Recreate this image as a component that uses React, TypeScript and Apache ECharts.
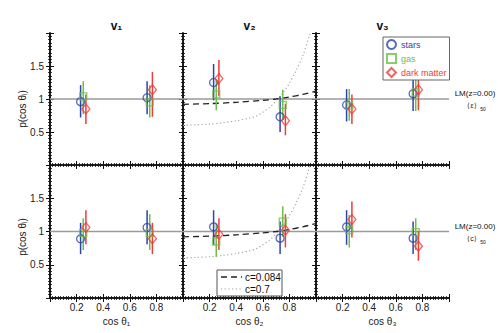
import { useEffect, useRef } from 'react';
import * as echarts from 'echarts';

// ---- data ----
const X_STARS = [0.23, 0.73];
const X_GAS = [0.25, 0.75];
const X_DM = [0.27, 0.77];

// panels: 0..2 top row (v1,v2,v3), 3..5 bottom row
const STARS_VAL = [[0.96, 1.02], [1.25, 0.73], [0.91, 1.08], [0.89, 1.06], [1.07, 0.90], [1.07, 0.90]];
const STARS_LO = [[0.72, 0.77], [0.98, 0.50], [0.66, 0.82], [0.66, 0.81], [0.80, 0.66], [0.80, 0.66]];
const STARS_HI = [[1.21, 1.27], [1.53, 1.04], [1.15, 1.34], [1.13, 1.32], [1.32, 1.15], [1.32, 1.15]];

const GAS_VAL = [[1.04, 0.95], [1.07, 0.91], [0.90, 1.10], [0.98, 0.98], [0.85, 1.15], [1.02, 0.99]];
const GAS_LO = [[0.77, 0.72], [0.83, 0.68], [0.67, 0.82], [0.72, 0.72], [0.62, 0.92], [0.76, 0.72]];
const GAS_HI = [[1.27, 1.21], [1.29, 1.14], [1.15, 1.34], [1.20, 1.26], [1.12, 1.38], [1.25, 1.20]];

const DM_VAL = [[0.85, 1.14], [1.31, 0.67], [0.85, 1.14], [1.06, 0.89], [0.96, 1.02], [1.18, 0.78]];
const DM_LO = [[0.62, 0.73], [1.04, 0.45], [0.62, 0.83], [0.81, 0.66], [0.72, 0.76], [0.91, 0.56]];
const DM_HI = [[1.07, 1.41], [1.59, 0.93], [1.07, 1.40], [1.32, 1.13], [1.20, 1.26], [1.45, 1.01]];

const REF_X = [0, 1];
const REF_Y = 1;

const DOT_X = [0, 0.1, 0.2, 0.3, 0.4, 0.5, 0.55, 0.6, 0.65, 0.7, 0.75, 0.8, 0.85, 0.9, 0.95, 0.97];
const DOT_Y = [0.60, 0.61, 0.62, 0.64, 0.67, 0.71, 0.74, 0.80, 0.87, 0.97, 1.09, 1.24, 1.43, 1.65, 1.96, 2.1];
const DASH_X = [0, 0.2, 0.4, 0.6, 0.7, 0.8, 0.9, 1.0];
const DASH_Y = [0.92, 0.93, 0.95, 0.98, 1.0, 1.03, 1.07, 1.12];

const PANEL_TITLES = ['v₁', 'v₂', 'v₃'];
const X_NAMES = ['cos θ₁', 'cos θ₂', 'cos θ₃'];
const ROW_NOTES = ['⟨ε⟩', '⟨c⟩'];
const CURVE_NAMES = ['c=0.084', 'c=0.7'];

// ---- style ----
const FONT = 'Liberation Sans, Arial, Helvetica, sans-serif';
const BLUE = '#2f44a6';
const GREEN = '#6cc04a';
const RED = '#ee3b3b';
const DASH_COLOR = '#222';
const DOT_COLOR = '#a0a0a0';
const DASH_PATTERN = [6, 4];
const DOT_PATTERN = [1.2, 2.5];
const PANEL_LEFT = 50;
const PANEL_W = 133;
const ROW_TOP = [33, 165];
const ROW_H = [132, 133];

function buildOption() {
  const grid: any[] = [];
  const xAxis: any[] = [];
  const yAxis: any[] = [];
  const series: any[] = [];

  const tickCommon = {
    axisLine: { show: true, lineStyle: { color: '#111', width: 1.6 } },
    axisTick: { show: true, inside: true, length: 4, lineStyle: { color: '#111', width: 1 } },
    minorTick: { show: true, splitNumber: 10, length: 2, lineStyle: { color: '#111', width: 0.8 } },
    splitLine: { show: false },
    minorSplitLine: { show: false },
  };

  for (let p = 0; p < 6; p++) {
    const r = Math.floor(p / 3);
    const c = p % 3;
    grid.push({ left: PANEL_LEFT + c * PANEL_W, top: ROW_TOP[r], width: PANEL_W, height: ROW_H[r] });
    xAxis.push({
      ...tickCommon,
      type: 'value', gridIndex: p, position: 'bottom', min: 0, max: 1, interval: 0.2,
      axisLabel: {
        show: r === 1, margin: 4, fontSize: 10, color: '#222', fontFamily: FONT,
        formatter: (v: number) => (v < 0.01 || v > 0.99 ? '' : v.toFixed(1)),
      },
    });
    xAxis.push({
      ...tickCommon,
      type: 'value', gridIndex: p, position: 'top', min: 0, max: 1, interval: 0.2,
      axisLabel: { show: false },
    });
    yAxis.push({
      ...tickCommon,
      type: 'value', gridIndex: p, position: 'left', min: 0, max: 2, interval: 0.5,
      axisLabel: {
        show: c === 0, margin: 6, fontSize: 10, color: '#222', fontFamily: FONT,
        formatter: (v: number) => (v < 0.01 || v > 1.99 ? '' : String(v)),
      },
    });
    yAxis.push({
      ...tickCommon,
      type: 'value', gridIndex: p, position: 'right', min: 0, max: 2, interval: 0.5,
      axisLabel: { show: false },
    });

    const xi = 2 * p;
    const yi = 2 * p;

    series.push({
      type: 'line', name: 'ref', xAxisIndex: xi, yAxisIndex: yi, symbol: 'none', z: 1,
      data: REF_X.map((x) => [x, REF_Y]),
      lineStyle: { color: '#9a9a9a', width: 1.5 },
      silent: true,
    });

    if (c === 1) {
      series.push({
        type: 'line', name: CURVE_NAMES[0], xAxisIndex: xi, yAxisIndex: yi, symbol: 'none', z: 2,
        smooth: 0.3, clip: true,
        data: DASH_X.map((x, i) => [x, DASH_Y[i]]),
        lineStyle: { color: DASH_COLOR, width: 1.3, type: DASH_PATTERN },
      });
      series.push({
        type: 'line', name: CURVE_NAMES[1], xAxisIndex: xi, yAxisIndex: yi, symbol: 'none', z: 2,
        smooth: 0.3, clip: true,
        data: DOT_X.map((x, i) => [x, DOT_Y[i]]),
        lineStyle: { color: DOT_COLOR, width: 1.1, type: DOT_PATTERN },
      });
    }

    const species = [
      { name: 'stars', xs: X_STARS, val: STARS_VAL[p], lo: STARS_LO[p], hi: STARS_HI[p], color: BLUE, symbol: 'circle', size: 8 },
      { name: 'gas', xs: X_GAS, val: GAS_VAL[p], lo: GAS_LO[p], hi: GAS_HI[p], color: GREEN, symbol: 'rect', size: 7 },
      { name: 'dark matter', xs: X_DM, val: DM_VAL[p], lo: DM_LO[p], hi: DM_HI[p], color: RED, symbol: 'diamond', size: [8, 10] },
    ];
    species.forEach((s) => {
      series.push({
        type: 'custom', name: s.name + ' err', xAxisIndex: xi, yAxisIndex: yi, z: 3,
        encode: { x: 0, y: [1, 2] },
        data: s.xs.map((x, i) => [x, s.lo[i], s.hi[i]]),
        renderItem: (_params: any, api: any) => {
          const x = api.value(0);
          const a = api.coord([x, api.value(1)]);
          const b = api.coord([x, api.value(2)]);
          return {
            type: 'line',
            shape: { x1: a[0], y1: a[1], x2: b[0], y2: b[1] },
            style: { stroke: s.color, lineWidth: 1.5 },
          };
        },
        silent: true,
      });
    });
    species.forEach((s) => {
      series.push({
        type: 'scatter', name: s.name, xAxisIndex: xi, yAxisIndex: yi, z: 4,
        symbol: s.symbol, symbolSize: s.size,
        data: s.xs.map((x, i) => [x, s.val[i]]),
        itemStyle: { color: 'rgba(255,255,255,0)', borderColor: s.color, borderWidth: 1.3 },
      });
    });
  }

  const graphic: any[] = [];
  for (let c = 0; c < 3; c++) {
    const cx = PANEL_LEFT + c * PANEL_W + PANEL_W / 2;
    graphic.push({
      type: 'text', x: cx, y: 26,
      style: { text: PANEL_TITLES[c], fontSize: 12, fontWeight: 'bold', fill: '#111', fontFamily: FONT, align: 'center', verticalAlign: 'middle' },
    });
    graphic.push({
      type: 'text', x: cx, y: 321,
      style: { text: X_NAMES[c], fontSize: 10, fill: '#222', fontFamily: FONT, align: 'center', verticalAlign: 'middle' },
    });
  }
  for (let r = 0; r < 2; r++) {
    const yc = r === 0 ? 109 : 237;
    graphic.push({
      type: 'text', x: 22, y: yc, rotation: Math.PI / 2,
      style: { text: 'p(cos θᵢ)', fontSize: 10, fill: '#222', fontFamily: FONT, align: 'center', verticalAlign: 'middle' },
    });
    const ly = r === 0 ? 93 : 226;
    graphic.push({
      type: 'text', x: 475, y: ly,
      style: { text: 'LM(z=0.00)', fontSize: 8, fill: '#111', fontFamily: FONT, align: 'center', verticalAlign: 'middle' },
    });
    graphic.push({
      type: 'text', x: 472, y: ly + 12,
      style: { text: ROW_NOTES[r], fontSize: 7, fill: '#111', fontFamily: FONT, align: 'center', verticalAlign: 'middle' },
    });
    graphic.push({
      type: 'text', x: 483, y: ly + 16,
      style: { text: '50', fontSize: 5, fill: '#111', fontFamily: FONT, align: 'center', verticalAlign: 'middle' },
    });
  }

  // legend for the two model curves (drawn as a boxed key)
  const L2 = { x: 217, y: 270, w: 65, h: 26 };
  graphic.push({
    type: 'rect', z: 10,
    shape: { x: L2.x, y: L2.y, width: L2.w, height: L2.h },
    style: { fill: '#fff', stroke: '#555', lineWidth: 1 },
  });
  [
    { y: L2.y + 7, color: DASH_COLOR, dash: DASH_PATTERN, width: 1.3 },
    { y: L2.y + 19, color: DOT_COLOR, dash: DOT_PATTERN, width: 1.1 },
  ].forEach((it, i) => {
    graphic.push({
      type: 'line', z: 11,
      shape: { x1: L2.x + 4, y1: it.y, x2: L2.x + 25, y2: it.y },
      style: { stroke: it.color, lineWidth: it.width, lineDash: it.dash },
    });
    graphic.push({
      type: 'text', z: 11, x: L2.x + 28, y: it.y,
      style: { text: CURVE_NAMES[i], fontSize: 10, fill: '#111', fontFamily: FONT, align: 'left', verticalAlign: 'middle' },
    });
  });

  return {
    animation: false,
    backgroundColor: '#fff',
    grid,
    xAxis,
    yAxis,
    series,
    graphic,
    legend: [
      {
        left: 383, top: 37, orient: 'vertical', selectedMode: false,
        itemWidth: 9, itemHeight: 9, itemGap: 3, padding: [2, 3, 2, 3],
        backgroundColor: '#fff', borderColor: '#666', borderWidth: 1,
        textStyle: { fontSize: 9, fontFamily: FONT },
        data: [
          { name: 'stars', textStyle: { color: BLUE } },
          { name: 'gas', textStyle: { color: GREEN } },
          { name: 'dark matter', textStyle: { color: RED } },
        ],
      },
    ],
  };
}

export default function App() {
  const ref = useRef<HTMLDivElement>(null);
  useEffect(() => {
    const chart = echarts.init(ref.current!, null, { renderer: 'svg' });
    chart.setOption(buildOption() as any);
    return () => chart.dispose();
  }, []);
  return (
    <div
      ref={ref}
      style={{ position: 'fixed', left: 0, top: 0, width: 498, height: 333, background: '#fff' }}
    />
  );
}
